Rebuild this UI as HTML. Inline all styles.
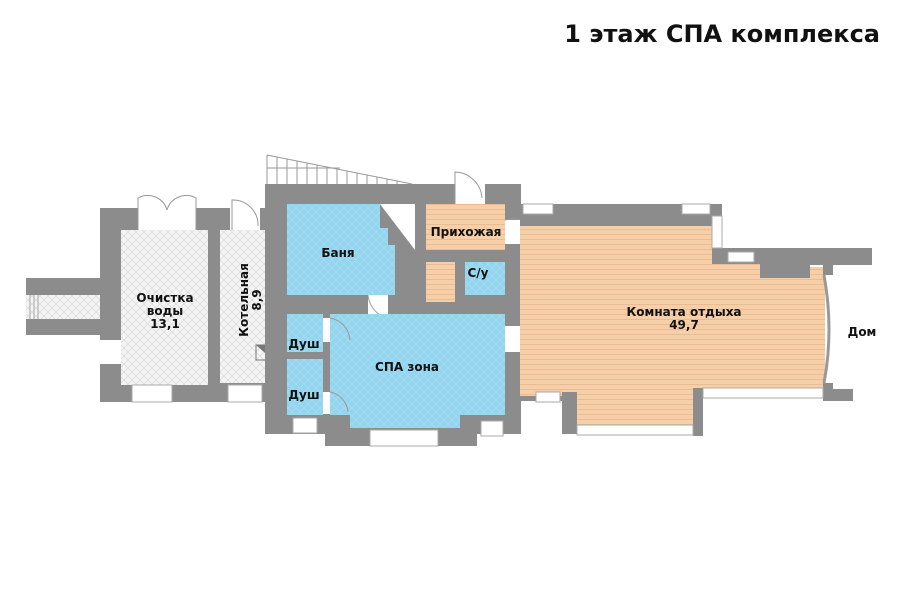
<!DOCTYPE html>
<html><head><meta charset="utf-8"><style>
html,body{margin:0;padding:0;background:#fff;}
svg{display:block}
text{font-family:"DejaVu Sans","Liberation Sans",sans-serif;font-weight:bold;fill:#111;}
</style></head><body>
<svg width="900" height="600" viewBox="0 0 900 600" xmlns="http://www.w3.org/2000/svg">
<defs>
<pattern id="hatch" width="8" height="8" patternUnits="userSpaceOnUse">
<rect width="8" height="8" fill="#f4f4f4"/><path d="M0 0L8 8M8 0L0 8" stroke="#d8d8d8" stroke-width="0.7"/></pattern>
<pattern id="blue" width="8" height="8" patternUnits="userSpaceOnUse">
<rect width="8" height="8" fill="#93d4ee"/><path d="M0 0L8 8M8 0L0 8" stroke="#a9def2" stroke-width="0.7"/></pattern>
<pattern id="wood" width="10" height="5" patternUnits="userSpaceOnUse">
<rect width="10" height="5" fill="#f6cfa8"/><line x1="0" y1="4.5" x2="10" y2="4.5" stroke="#e5b98e" stroke-width="0.8"/></pattern>
</defs>
<text x="880" y="42" font-size="24" text-anchor="end">1 этаж СПА комплекса</text>

<g stroke="#999" stroke-width="1" fill="none">
<path d="M267 155 L267 184 M267 155 L412 184"/>
<path d="M267 168 L340 168"/>
<path d="M277 157V184M287 159V184M297 161V184M307 163V184M317 165V184M327 167V184M337 169V184M347 171V184M357 173V184M367 175V184M377 177V184M387 179V184M397 181V184"/>
</g>

<rect x="26" y="278" width="94" height="57" fill="#8c8c8c"/>
<rect x="26" y="295" width="94" height="24" fill="url(#hatch)"/>
<g stroke="#aaa"><line x1="30" y1="295" x2="30" y2="319"/><line x1="34" y1="295" x2="34" y2="319"/><line x1="38" y1="295" x2="38" y2="319"/></g>

<rect x="100" y="208" width="183" height="194" fill="#8c8c8c"/>
<rect x="121" y="230" width="87" height="155" fill="url(#hatch)"/>
<rect x="220" y="230" width="56" height="153" fill="url(#hatch)"/>
<rect x="100" y="340" width="21" height="24" fill="#fff"/>
<rect x="138" y="208" width="58" height="22" fill="#fff"/>
<rect x="230" y="208" width="30" height="22" fill="#fff"/>
<rect x="132" y="385" width="40" height="17" fill="#fff" stroke="#aaa"/>
<rect x="228" y="385" width="34" height="17" fill="#fff" stroke="#aaa"/>
<g fill="none" stroke="#999">
<path d="M138 230V198A20 20 0 0 1 167 210"/><path d="M196 230V198A20 20 0 0 0 167 210"/>
<path d="M232 230V200A25 25 0 0 1 258 226"/>
</g>
<path d="M256 345H273V360Z" fill="#777"/><rect x="256" y="345" width="17" height="15" fill="none" stroke="#777"/>

<rect x="265" y="184" width="256" height="250" fill="#8c8c8c"/>
<rect x="325" y="420" width="152" height="26" fill="#8c8c8c"/>
<rect x="287" y="204" width="128" height="91" fill="url(#blue)"/>
<path d="M380 204H415V295H395V245H388V228H380Z" fill="#8c8c8c"/>
<path d="M380 204H415V250Z" fill="#fff"/>
<rect x="426" y="204" width="79" height="46" fill="url(#wood)"/>
<rect x="426" y="262" width="29" height="40" fill="url(#wood)"/>
<rect x="465" y="262" width="40" height="33" fill="url(#blue)"/>
<rect x="455" y="170" width="30" height="34" fill="#fff"/>
<path d="M455 204V172A28 28 0 0 1 482 198" fill="none" stroke="#999"/>
<rect x="505" y="220" width="15" height="24" fill="#fff"/>
<rect x="368" y="295" width="20" height="19" fill="#fff"/>
<path d="M368 295A28 28 0 0 0 396 320" fill="none" stroke="#999"/>
<rect x="287" y="314" width="36" height="38" fill="url(#blue)"/>
<rect x="287" y="359" width="36" height="56" fill="url(#blue)"/>
<rect x="330" y="314" width="175" height="101" fill="url(#blue)"/>
<rect x="350" y="410" width="110" height="18" fill="url(#blue)"/>
<rect x="323" y="318" width="7" height="24" fill="#fff"/>
<rect x="323" y="392" width="7" height="22" fill="#fff"/>
<rect x="505" y="326" width="15" height="26" fill="#fff"/>
<g fill="none" stroke="#999">
<path d="M330 318A24 24 0 0 1 350 340"/><path d="M330 392A22 22 0 0 1 348 412"/>
<path d="M520 326A28 28 0 0 1 540 350"/><path d="M505 220A28 28 0 0 1 540 240"/>
</g>
<rect x="293" y="418" width="24" height="15" fill="#fff" stroke="#aaa"/>
<rect x="370" y="430" width="68" height="16" fill="#fff" stroke="#aaa"/>
<rect x="481" y="421" width="22" height="15" fill="#fff" stroke="#aaa"/>

<rect x="520" y="204" width="200" height="22" fill="#8c8c8c"/>
<rect x="710" y="204" width="12" height="52" fill="#8c8c8c"/>
<rect x="710" y="248" width="162" height="17" fill="#8c8c8c"/>
<rect x="760" y="260" width="50" height="18" fill="#8c8c8c"/>
<rect x="520" y="226" width="192" height="170" fill="url(#wood)"/>
<rect x="712" y="264" width="48" height="132" fill="url(#wood)"/>
<rect x="760" y="278" width="50" height="118" fill="url(#wood)"/>
<rect x="810" y="267" width="15" height="130" fill="url(#wood)"/>
<rect x="577" y="396" width="116" height="30" fill="url(#wood)"/>
<rect x="823" y="265" width="10" height="10" fill="#8c8c8c"/>
<rect x="823" y="383" width="10" height="12" fill="#8c8c8c"/>
<rect x="823" y="389" width="30" height="12" fill="#8c8c8c"/>
<rect x="693" y="388" width="10" height="48" fill="#8c8c8c"/>
<rect x="703" y="388" width="120" height="10" fill="#fff" stroke="#aaa"/>
<rect x="562" y="392" width="15" height="42" fill="#8c8c8c"/>
<rect x="577" y="425" width="116" height="10" fill="#fff" stroke="#aaa"/>
<rect x="520" y="396" width="42" height="5" fill="#8c8c8c"/>
<rect x="536" y="392" width="24" height="10" fill="#fff" stroke="#aaa"/>
<rect x="523" y="204" width="30" height="10" fill="#fff" stroke="#aaa"/>
<rect x="682" y="204" width="28" height="10" fill="#fff" stroke="#aaa"/>
<rect x="712" y="216" width="10" height="32" fill="#fff" stroke="#aaa"/>
<rect x="728" y="252" width="26" height="10" fill="#fff" stroke="#aaa"/>
<path d="M824 275Q834 330 824 383" fill="none" stroke="#999" stroke-width="3"/>

<text x="165" y="302" font-size="12" text-anchor="middle">Очистка</text>
<text x="165" y="315" font-size="12" text-anchor="middle">воды</text>
<text x="165" y="328" font-size="12" text-anchor="middle">13,1</text>
<text transform="translate(248 300) rotate(-90)" font-size="12" text-anchor="middle">Котельная</text>
<text transform="translate(261 300) rotate(-90)" font-size="12" text-anchor="middle">8,9</text>
<text x="338" y="257" font-size="12" text-anchor="middle">Баня</text>
<text x="466" y="236" font-size="12" text-anchor="middle">Прихожая</text>
<text x="478" y="277" font-size="12" text-anchor="middle">С/у</text>
<text x="304" y="348" font-size="12" text-anchor="middle">Душ</text>
<text x="304" y="399" font-size="12" text-anchor="middle">Душ</text>
<text x="407" y="371" font-size="12" text-anchor="middle">СПА зона</text>
<text x="684" y="316" font-size="12" text-anchor="middle">Комната отдыха</text>
<text x="684" y="329" font-size="12" text-anchor="middle">49,7</text>
<text x="862" y="336" font-size="12" text-anchor="middle">Дом</text>
</svg>
</body></html>
